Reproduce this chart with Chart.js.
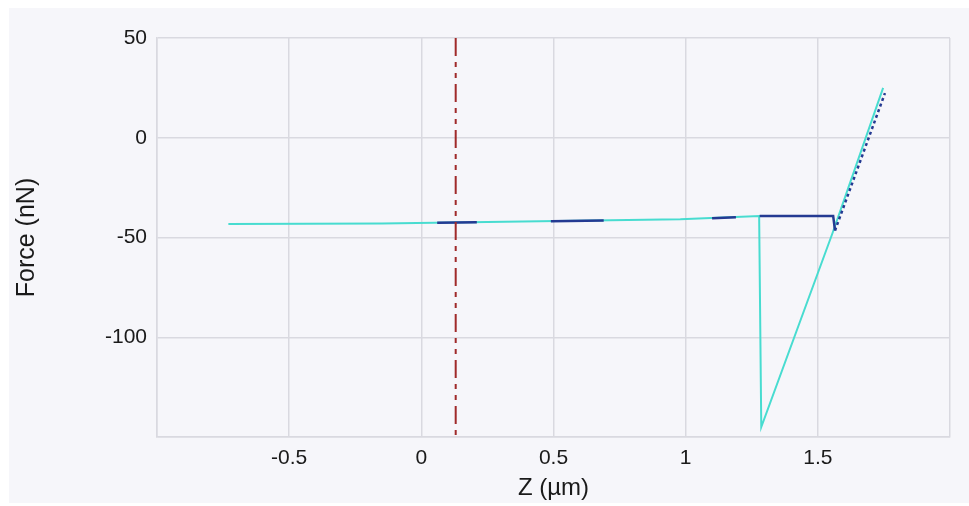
<!DOCTYPE html>
<html>
<head>
<meta charset="utf-8">
<script src="https://cdn.jsdelivr.net/npm/chart.js@4/dist/chart.umd.min.js"></script>
<style>
    body { margin: 0; background: #ffffff; }
    #wrap { position: relative; width: 969px; height: 506px; }
    #panel { position: absolute; left: 9px; top: 8px; right: 0; bottom: 3px; background: #f6f6fa; }
    #forceChart { position: absolute; left: 0; top: 0; }
</style>
</head>
<body>
<div id="wrap">
    <div id="panel"></div>
    <canvas id="forceChart" width="969" height="506"></canvas>
</div>
<script>
// retract curve (cyan)
const retractZ = [-0.73, -0.15, 0.98, 1.278, 1.286, 1.555, 1.747];
const retractF = [-43.2, -43.0, -40.9, -39.2, -145, -48, 25];

// approach curve (navy), null = hidden under the cyan curve
const approachZ = [0.06, 0.21, 0.215, 0.49, 0.69, 0.695, 1.10, 1.19, 1.195, 1.28, 1.558, 1.565, 1.754];
const approachF = [-42.6, -42.4, null, -41.8, -41.5, null, -40.3, -39.9, null, -39.2, -39.2, -46.5, 22.4];

// contact point marker
const markerZ = [0.13, 0.13];
const markerF = [50, -150];

const zTicks = [-0.5, 0, 0.5, 1, 1.5];
const fTicks = [50, 0, -50, -100];

const toPoints = (xs, ys) => xs.map((x, i) => ({ x: x, y: ys[i] }));

const fontFamily = "'Liberation Sans', Arial, sans-serif";
const gridColor = '#d9d9e0';

const ctx = document.getElementById('forceChart').getContext('2d');

new Chart(ctx, {
    type: 'line',
    data: {
        datasets: [
            {
                label: 'marker',
                data: toPoints(markerZ, markerF),
                borderColor: '#a02a2a',
                borderWidth: 2,
                borderDash: [18, 6, 5, 6, 5, 6],
                pointRadius: 0
            },
            {
                label: 'approach',
                data: toPoints(approachZ, approachF),
                borderColor: '#243a92',
                borderWidth: 2.5,
                pointRadius: 0,
                spanGaps: false,
                segment: {
                    borderDash: c => c.p1DataIndex === approachZ.length - 1 ? [3, 3] : undefined
                }
            },
            {
                label: 'retract',
                data: toPoints(retractZ, retractF),
                borderColor: '#48dcd0',
                borderWidth: 2,
                pointRadius: 0
            }
        ]
    },
    options: {
        responsive: false,
        animation: false,
        layout: {
            padding: { left: 9, right: 19, top: 38, bottom: 3 }
        },
        plugins: {
            legend: { display: false },
            tooltip: { enabled: false }
        },
        scales: {
            x: {
                type: 'linear',
                min: -1,
                max: 2,
                afterFit: s => { s.height = 66; },
                grid: { color: gridColor, lineWidth: 1.5, drawTicks: false },
                border: { color: gridColor, width: 1.5 },
                ticks: {
                    stepSize: 0.5,
                    padding: 9,
                    maxRotation: 0,
                    color: '#1a1a1a',
                    font: { family: fontFamily, size: 21 },
                    callback: v => zTicks.includes(v) ? String(v) : ''
                },
                title: {
                    display: true,
                    text: 'Z (µm)',
                    color: '#1a1a1a',
                    padding: { top: 0, bottom: 0 },
                    font: { family: fontFamily, size: 24 }
                }
            },
            y: {
                type: 'linear',
                min: -150,
                max: 50,
                afterFit: s => { s.width = 148; },
                grid: { color: gridColor, lineWidth: 1.5, drawTicks: false },
                border: { color: gridColor, width: 1.5 },
                ticks: {
                    stepSize: 50,
                    padding: 10,
                    color: '#1a1a1a',
                    font: { family: fontFamily, size: 21 },
                    callback: v => fTicks.includes(v) ? String(v) : ''
                },
                title: {
                    display: true,
                    text: 'Force (nN)',
                    color: '#1a1a1a',
                    padding: { top: 3, bottom: 0 },
                    font: { family: fontFamily, size: 25 }
                }
            }
        }
    }
});
</script>
</body>
</html>
